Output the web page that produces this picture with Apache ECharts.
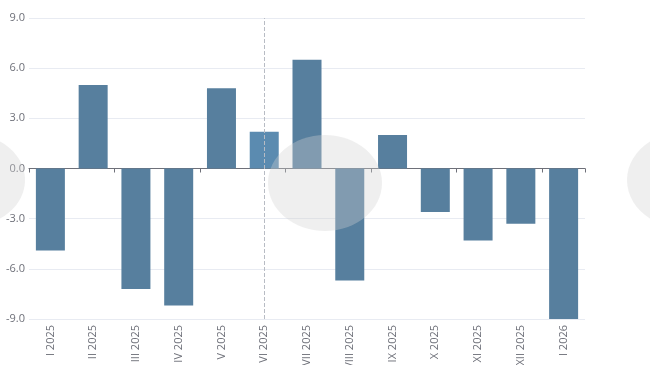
<!DOCTYPE html>
<html><head><meta charset="utf-8">
<script src="https://cdn.jsdelivr.net/npm/echarts@6/dist/echarts.min.js"></script>
<style>html,body{margin:0;padding:0;background:#fff}#c{width:650px;height:365px}</style>
</head><body><div id="c"></div>
<script>
const categories = ['I 2025','II 2025','III 2025','IV 2025','V 2025','VI 2025','VII 2025','VIII 2025','IX 2025','X 2025','XI 2025','XII 2025','I 2026'];
const values = [-4.9, 5.0, -7.2, -8.2, 4.8, 2.2, 6.5, -6.7, 2.0, -2.6, -4.3, -3.3, -9.0];
const yTicks = {min: -9, max: 9, interval: 3};
const highlighted = 'VI 2025';

const barColor = '#577f9e';
const hiColor = '#5b8bb0';
const chart = echarts.init(document.getElementById('c'));
chart.setOption({
  animation: false,
  grid: {left: 29, right: 65, top: 18, bottom: 46, containLabel: false, outerBoundsMode: 'none'},
  xAxis: [{
    type: 'category', data: categories, position: 'bottom',
    axisLine: {show: false, onZero: false}, axisTick: {show: false},
    axisLabel: {rotate: 90, color: '#6e7079', fontSize: 11, fontFamily: 'Open Sans', margin: 6},
    splitLine: {show: false}
  }, {
    type: 'category', data: categories, position: 'bottom',
    axisLine: {show: true, onZero: true, lineStyle: {color: '#6e7079'}},
    axisTick: {show: true, length: 4, lineStyle: {color: '#6e7079'}},
    axisLabel: {show: false}
  }],
  yAxis: {
    type: 'value', min: yTicks.min, max: yTicks.max, interval: yTicks.interval,
    axisLabel: {color: '#6e7079', fontSize: 11, fontFamily: 'Open Sans', margin: 4, formatter: v => v.toFixed(1)},
    axisLine: {show: false}, axisTick: {show: false},
    splitLine: {lineStyle: {color: '#e8ebf2'}}
  },
  series: [{
    type: 'bar', xAxisIndex: 0, barWidth: 29,
    data: values.map((v, i) => ({value: v, itemStyle: {color: categories[i] === highlighted ? hiColor : barColor}})),
    markLine: {
      silent: true, symbol: 'none', label: {show: false},
      lineStyle: {type: 'dashed', color: '#b8bcc4', width: 1},
      data: [{xAxis: highlighted}]
    }
  }],
  graphic: [
    {type: 'ellipse', shape: {cx: 325, cy: 183, rx: 57, ry: 48}, style: {fill: 'rgba(210,210,210,0.35)'}, z: 100},
    {type: 'ellipse', shape: {cx: -30, cy: 180, rx: 55, ry: 46}, style: {fill: 'rgba(210,210,210,0.35)'}, z: 100},
    {type: 'ellipse', shape: {cx: 684, cy: 180, rx: 57, ry: 48}, style: {fill: 'rgba(210,210,210,0.35)'}, z: 100}
  ]
});
</script></body></html>
